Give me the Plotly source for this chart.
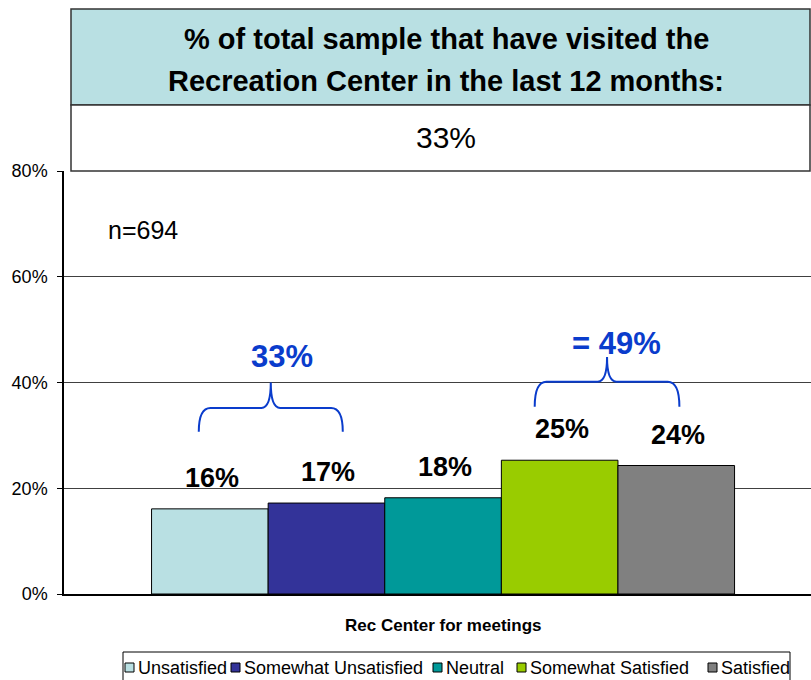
import plotly.graph_objects as go

# ---------------- data ----------------
categories = ["Unsatisfied", "Somewhat Unsatisfied", "Neutral", "Somewhat Satisfied", "Satisfied"]
values = [16.1, 17.2, 18.2, 25.3, 24.3]
value_labels = ["16%", "17%", "18%", "25%", "24%"]
colors = ["#B9E0E3", "#333399", "#009999", "#99CC00", "#808080"]
group_label = "Rec Center for meetings"
title_lines = ["% of total sample that have visited the", "Recreation Center in the last 12 months:"]
title_value = "33%"
sample_note = "n=694"
bracket_texts = ["33%", "= 49%"]
y_ticks = [0, 20, 40, 60, 80]
y_tick_text = ["0%", "20%", "40%", "60%", "80%"]

# ---------------- layout helpers ----------------
W, H = 811, 680
L, R, T, B = 64, 811, 171, 594


def pxx(p):
    return (p - L) / (R - L)


def pxy(p):
    return (B - p) / (B - T)


FONT = "Arial, Liberation Sans, sans-serif"
BLUE = "#0A3CCC"

fig = go.Figure()
for i, (cat, v, c) in enumerate(zip(categories, values, colors)):
    fig.add_trace(go.Bar(
        x=[i], y=[v], width=1, name=cat,
        marker=dict(color=c, line=dict(color="#000000", width=1)),
        showlegend=False, hoverinfo="name+y",
    ))

annotations = []
shapes = []

# value labels above bars
for i, (v, t) in enumerate(zip(values, value_labels)):
    annotations.append(dict(
        x=i, y=v, xref="x", yref="y", text=f"<b>{t}</b>", showarrow=False,
        xanchor="center", yanchor="bottom", yshift=14, xshift=2,
        font=dict(family=FONT, size=27, color="#000000"),
    ))


# braces
def brace_path(xa, xb, y_end, y_h, y_peak, r_end, r_mid):
    xc = (xa + xb) / 2
    return (f"M {xa},{y_end} Q {xa},{y_h} {xa + r_end},{y_h} "
            f"L {xc - r_mid},{y_h} Q {xc},{y_h} {xc},{y_peak} "
            f"Q {xc},{y_h} {xc + r_mid},{y_h} "
            f"L {xb - r_end},{y_h} Q {xb},{y_h} {xb},{y_end}")


braces = [
    dict(xa=-0.095, xb=1.14, y_end=30.7, y_h=35.2, y_peak=40.0, tx=0.62, ty=44.9),
    dict(xa=2.786, xb=4.027, y_end=35.4, y_h=40.15, y_peak=44.8, tx=3.484, ty=47.3),
]
for b, txt in zip(braces, bracket_texts):
    shapes.append(dict(type="path", xref="x", yref="y",
                       path=brace_path(b["xa"], b["xb"], b["y_end"], b["y_h"], b["y_peak"], 0.1, 0.08),
                       line=dict(color=BLUE, width=2)))
    annotations.append(dict(x=b["tx"], y=b["ty"], xref="x", yref="y", text=f"<b>{txt}</b>",
                            showarrow=False, xanchor="center", yanchor="middle",
                            font=dict(family=FONT, size=31, color=BLUE)))

# title box
shapes.append(dict(type="rect", xref="paper", yref="paper",
                   x0=pxx(71), x1=pxx(810), y0=pxy(105), y1=pxy(9),
                   fillcolor="#B9E0E3", line=dict(color="#333333", width=1.5), layer="below"))
shapes.append(dict(type="rect", xref="paper", yref="paper",
                   x0=pxx(71), x1=pxx(810), y0=pxy(171), y1=pxy(105),
                   fillcolor="#FFFFFF", line=dict(color="#333333", width=1.5), layer="below"))
annotations.append(dict(x=pxx(446), y=pxy(39), xref="paper", yref="paper", text=f"<b>{title_lines[0]}</b>",
                        showarrow=False, xanchor="center", yanchor="middle",
                        font=dict(family=FONT, size=29, color="#000000")))
annotations.append(dict(x=pxx(446), y=pxy(81), xref="paper", yref="paper", text=f"<b>{title_lines[1]}</b>",
                        showarrow=False, xanchor="center", yanchor="middle",
                        font=dict(family=FONT, size=29, color="#000000")))
annotations.append(dict(x=pxx(446), y=pxy(137), xref="paper", yref="paper", text=title_value,
                        showarrow=False, xanchor="center", yanchor="middle",
                        font=dict(family=FONT, size=30, color="#000000")))

# n note
annotations.append(dict(x=pxx(106), y=pxy(230), xref="paper", yref="paper", text=sample_note,
                        showarrow=False, xanchor="left", yanchor="middle",
                        font=dict(family=FONT, size=25, color="#000000")))

# category label
annotations.append(dict(x=2, y=pxy(625), xref="x", yref="paper", text=f"<b>{group_label}</b>",
                        showarrow=False, xanchor="center", yanchor="middle",
                        font=dict(family=FONT, size=17, color="#000000")))

# custom legend
shapes.append(dict(type="rect", xref="paper", yref="paper",
                   x0=pxx(123), x1=pxx(790), y0=pxy(690), y1=pxy(652),
                   fillcolor="rgba(0,0,0,0)", line=dict(color="#000000", width=1)))
legend_sq_px = [125, 231, 433, 517, 708]
for xp, cat, c in zip(legend_sq_px, categories, colors):
    shapes.append(dict(type="rect", xref="paper", yref="paper",
                       x0=pxx(xp), x1=pxx(xp + 9), y0=pxy(672), y1=pxy(663),
                       fillcolor=c, line=dict(color="#000000", width=1)))
    annotations.append(dict(x=pxx(xp + 11), y=pxy(668), xref="paper", yref="paper", text=cat,
                            showarrow=False, xanchor="left", yanchor="middle",
                            font=dict(family=FONT, size=18, color="#000000")))

fig.update_layout(
    width=W, height=H,
    margin=dict(l=L, r=W - R, t=T, b=H - B, pad=0),
    paper_bgcolor="#FFFFFF", plot_bgcolor="#FFFFFF",
    barmode="overlay",
    showlegend=False,
    annotations=annotations,
    shapes=shapes,
    font=dict(family=FONT, color="#000000"),
    xaxis=dict(range=[-1.2509, 5.1556], showticklabels=False, showgrid=False, zeroline=False,
               showline=True, linecolor="#000000", linewidth=1.5, ticks="", fixedrange=True),
    yaxis=dict(range=[0, 80], tickvals=y_ticks, ticktext=y_tick_text, showgrid=True,
               gridcolor="#404040", gridwidth=1, zeroline=False, showline=True,
               linecolor="#000000", linewidth=1.5, ticks="outside", ticklen=5, tickcolor="#000000",
               ticklabelstandoff=6,
               tickfont=dict(family=FONT, size=18, color="#000000"), fixedrange=True),
)

fig.write_html(
    "out.html",
    config={"displayModeBar": False},
    post_script="document.body.style.margin='0';document.body.style.overflow='hidden';",
)
